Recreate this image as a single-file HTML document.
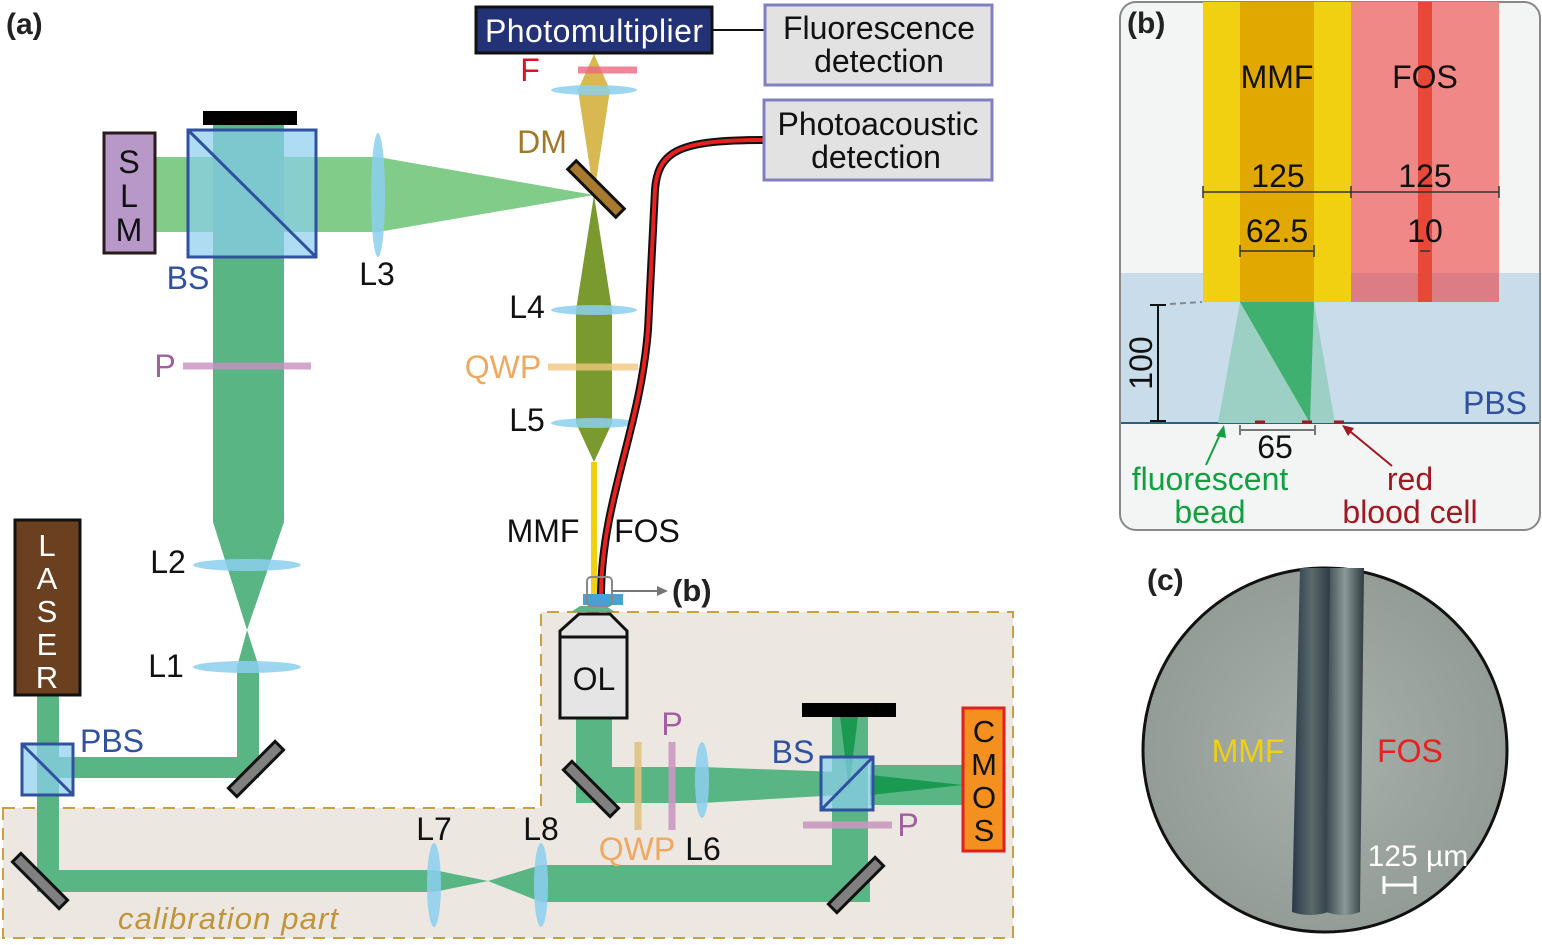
<!DOCTYPE html>
<html><head><meta charset="utf-8"><style>
html,body{margin:0;padding:0;background:#fff;}
svg{display:block;font-family:"Liberation Sans",Arial,sans-serif;}
</style></head><body>
<svg width="1542" height="945" viewBox="0 0 1542 945" xmlns="http://www.w3.org/2000/svg">
<polygon points="3,808 541,808 541,612 1013,612 1013,938 3,938" fill="#ece7e0" stroke="#c8a040" stroke-width="2" stroke-dasharray="12,8"/>
<text x="118" y="929" font-size="31" font-style="italic" fill="#c0953a" textLength="220">calibration part</text>

<rect x="155" y="157" width="223" height="75" fill="#80cc88"/>
<polygon points="378,157 594,195 378,232" fill="#80cc88"/>
<polygon points="213,125 284,125 284,522 247,630 213,522" fill="#5ab585"/>
<polygon points="247,630 237,667 259,667" fill="#5ab585"/>
<rect x="237" y="667" width="22" height="111" fill="#5ab585"/>
<rect x="48" y="757" width="211" height="21" fill="#5ab585"/>
<rect x="37" y="695" width="22" height="197" fill="#5ab585"/>
<rect x="37" y="870" width="398" height="22" fill="#5ab585"/>
<polygon points="434,870 488,881 434,892" fill="#5ab585"/>
<polygon points="488,881 541,865 541,902" fill="#5ab585"/>
<rect x="541" y="865" width="329" height="37" fill="#5ab585"/>
<rect x="832" y="712" width="36" height="190" fill="#5ab585"/>
<polygon points="840,716 858,716 849,790" fill="#1a9a50"/>
<rect x="576" y="718" width="36" height="85" fill="#5ab585"/>
<polygon points="576,767 702,767 840,772 840,795 702,803 576,803" fill="#5ab585"/>
<polygon points="870,765 963,765 963,805 870,805" fill="#5ab585"/>
<polygon points="870,775 963,785 870,795" fill="#1a9a50"/>
<polygon points="580,606 606,606 615,612 571,612" fill="#5ab585"/>

<polygon points="594,54 610,90 594,195 578,90" fill="#d8b850"/>
<polygon points="594,195 612,310 612,423 594,462 576,423 576,310" fill="#7a9a30"/>

<g fill="#808080" stroke="#111" stroke-width="3">
<rect x="-33" y="-6" width="66" height="12" transform="translate(256,769) rotate(-45)"/>
<rect x="-33" y="-6" width="66" height="12" transform="translate(40,881) rotate(45)"/>
<rect x="-33" y="-6" width="66" height="12" transform="translate(856,885) rotate(-45)"/>
<rect x="-33" y="-6" width="66" height="12" transform="translate(591,789) rotate(45)"/>
</g>
<rect x="-34" y="-6" width="68" height="12" transform="translate(596,189) rotate(45)" fill="#a87a30" stroke="#111" stroke-width="3"/>

<g fill="#8ccfee" fill-opacity="0.85">
<ellipse cx="378" cy="195" rx="7" ry="62"/>
<ellipse cx="247" cy="565" rx="54" ry="6"/>
<ellipse cx="247" cy="667" rx="54" ry="6"/>
<ellipse cx="594" cy="90" rx="43" ry="5"/>
<ellipse cx="594" cy="310" rx="43" ry="5"/>
<ellipse cx="594" cy="423" rx="43" ry="5"/>
<ellipse cx="434" cy="885" rx="7" ry="42"/>
<ellipse cx="541" cy="885" rx="7" ry="42"/>
<ellipse cx="702" cy="780" rx="7" ry="38"/>
</g>
<line x1="183" y1="366" x2="311" y2="366" stroke="#c890c0" stroke-opacity="0.8" stroke-width="7"/>
<line x1="548" y1="367" x2="638" y2="367" stroke="#f0c880" stroke-opacity="0.8" stroke-width="7"/>
<line x1="578" y1="70" x2="637" y2="70" stroke="#ec6880" stroke-opacity="0.8" stroke-width="7"/>
<line x1="638" y1="742" x2="638" y2="830" stroke="#e0c080" stroke-opacity="0.9" stroke-width="7"/>
<line x1="672" y1="742" x2="672" y2="830" stroke="#c898c0" stroke-opacity="0.9" stroke-width="7"/>
<line x1="803" y1="825" x2="892" y2="825" stroke="#c898c0" stroke-opacity="0.9" stroke-width="7"/>

<rect x="203" y="111" width="94" height="14" fill="#000"/>
<rect x="802" y="703" width="94" height="14" fill="#000"/>

<rect x="188" y="130" width="128" height="127" fill="#8ccfee" fill-opacity="0.7" stroke="#3050a0" stroke-width="3"/>
<line x1="188" y1="130" x2="316" y2="257" stroke="#3050a0" stroke-width="3"/>
<rect x="22" y="744" width="51" height="51" fill="#8ccfee" fill-opacity="0.7" stroke="#3050a0" stroke-width="3"/>
<line x1="22" y1="744" x2="73" y2="795" stroke="#3050a0" stroke-width="3"/>
<rect x="821" y="757" width="52" height="53" fill="#8ccfee" fill-opacity="0.7" stroke="#3050a0" stroke-width="3"/>
<line x1="821" y1="810" x2="873" y2="757" stroke="#3050a0" stroke-width="3"/>

<rect x="104" y="133" width="51" height="120" fill="#b898c8" stroke="#2a1a1a" stroke-width="3"/>
<text font-size="32" fill="#111" text-anchor="middle"><tspan x="129" y="173">S</tspan><tspan x="129" y="207">L</tspan><tspan x="129" y="241">M</tspan></text>
<rect x="15" y="520" width="65" height="175" fill="#6b4020" stroke="#111" stroke-width="3"/>
<text font-size="31" fill="#fff" text-anchor="middle"><tspan x="47" y="556">L</tspan><tspan x="47" y="589">A</tspan><tspan x="47" y="622">S</tspan><tspan x="47" y="655">E</tspan><tspan x="47" y="688">R</tspan></text>
<rect x="963" y="708" width="41" height="143" fill="#f39020" stroke="#e02020" stroke-width="3"/>
<text font-size="31" fill="#111" text-anchor="middle"><tspan x="984" y="742">C</tspan><tspan x="984" y="775">M</tspan><tspan x="984" y="808">O</tspan><tspan x="984" y="841">S</tspan></text>
<polygon points="579,614 610,614 627,631 627,718 560,718 560,631" fill="#e5e5e5" stroke="#111" stroke-width="3"/>
<line x1="560" y1="637" x2="627" y2="637" stroke="#111" stroke-width="3"/>
<text x="594" y="690" font-size="32" text-anchor="middle" fill="#111">OL</text>

<rect x="591" y="462" width="6" height="132" fill="#f0d010"/>
<path d="M601 594 C602 500,640 430,648 330 L655 190 C658 150,680 140,764 140" fill="none" stroke="#111" stroke-width="8"/>
<path d="M601 594 C602 500,640 430,648 330 L655 190 C658 150,680 140,764 140" fill="none" stroke="#e82020" stroke-width="4"/>
<rect x="583" y="594" width="40" height="11" fill="#4aa0d0"/>
<rect x="587" y="577" width="25" height="29" rx="4" fill="none" stroke="#888" stroke-width="2"/>
<line x1="612" y1="591" x2="660" y2="591" stroke="#777" stroke-width="2"/>
<polygon points="668,591 657,586 657,596" fill="#777"/>
<text x="672" y="601" font-size="31" font-weight="bold" fill="#222">(b)</text>

<rect x="476" y="7" width="236" height="46" fill="#233276" stroke="#111" stroke-width="3"/>
<text x="594" y="42" font-size="32" fill="#fff" text-anchor="middle" textLength="218">Photomultiplier</text>
<line x1="712" y1="30" x2="765" y2="30" stroke="#111" stroke-width="2"/>
<rect x="765" y="5" width="227" height="80" fill="#e2e2e2" stroke="#8080c0" stroke-width="3"/>
<text font-size="32" fill="#111" text-anchor="middle"><tspan x="879" y="39">Fluorescence</tspan><tspan x="879" y="72">detection</tspan></text>
<rect x="764" y="100" width="228" height="80" fill="#e2e2e2" stroke="#8080c0" stroke-width="3"/>
<text font-size="32" fill="#111" text-anchor="middle"><tspan x="878" y="135">Photoacoustic</tspan><tspan x="876" y="168">detection</tspan></text>

<text x="6" y="34" font-size="30" font-weight="bold" fill="#222">(a)</text>
<g font-size="32">
<text x="530" y="81" fill="#e0102a" text-anchor="middle">F</text>
<text x="542" y="153" fill="#a07828" text-anchor="middle">DM</text>
<text x="188" y="289" fill="#3050a0" text-anchor="middle">BS</text>
<text x="377" y="285" fill="#111" text-anchor="middle">L3</text>
<text x="165" y="377" fill="#a060a0" text-anchor="middle">P</text>
<text x="527" y="318" fill="#111" text-anchor="middle">L4</text>
<text x="503" y="378" fill="#f0a860" text-anchor="middle">QWP</text>
<text x="527" y="431" fill="#111" text-anchor="middle">L5</text>
<text x="543" y="542" fill="#111" text-anchor="middle">MMF</text>
<text x="647" y="542" fill="#111" text-anchor="middle">FOS</text>
<text x="168" y="573" fill="#111" text-anchor="middle">L2</text>
<text x="166" y="677" fill="#111" text-anchor="middle">L1</text>
<text x="112" y="752" fill="#3050a0" text-anchor="middle">PBS</text>
<text x="793" y="763" fill="#3050a0" text-anchor="middle">BS</text>
<text x="672" y="735" fill="#a060a0" text-anchor="middle">P</text>
<text x="637" y="860" fill="#f0a860" text-anchor="middle">QWP</text>
<text x="703" y="860" fill="#111" text-anchor="middle">L6</text>
<text x="908" y="836" fill="#a060a0" text-anchor="middle">P</text>
<text x="434" y="840" fill="#111" text-anchor="middle">L7</text>
<text x="541" y="840" fill="#111" text-anchor="middle">L8</text>
</g>

<rect x="1120" y="2" width="420" height="528" rx="16" fill="#f3f4f4" stroke="#888" stroke-width="2"/>
<rect x="1121" y="273" width="418" height="150" fill="#c8dcea"/>
<line x1="1121" y1="423" x2="1539" y2="423" stroke="#2a6080" stroke-width="2"/>
<rect x="1203" y="2" width="148" height="300" fill="#f0d010"/>
<rect x="1240" y="2" width="74" height="300" fill="#e0a800"/>
<rect x="1351" y="2" width="148" height="300" fill="#f08888"/>
<rect x="1351" y="273" width="148" height="29" fill="#dc7c84"/>
<rect x="1418" y="2" width="14" height="300" fill="#e84838"/>
<polygon points="1240,302 1314,302 1335,423 1218,423" fill="#9cd0c4"/>
<polygon points="1240,302 1314,302 1310,423" fill="#40b070"/>
<g font-size="32" fill="#111" text-anchor="middle">
<text x="1277" y="88">MMF</text><text x="1425" y="88">FOS</text>
<text x="1278" y="187">125</text><text x="1425" y="187">125</text>
<text x="1277" y="242">62.5</text><text x="1425" y="242">10</text>
<text x="1275" y="458">65</text>
</g>
<line x1="1203" y1="192" x2="1499" y2="192" stroke="#333" stroke-width="1.5"/>
<line x1="1203" y1="186" x2="1203" y2="198" stroke="#333" stroke-width="1.5"/>
<line x1="1499" y1="186" x2="1499" y2="198" stroke="#333" stroke-width="1.5"/>
<line x1="1351" y1="186" x2="1351" y2="198" stroke="#333" stroke-width="1.5"/>
<line x1="1240" y1="251" x2="1314" y2="251" stroke="#333" stroke-width="1.5"/>
<line x1="1240" y1="245" x2="1240" y2="257" stroke="#333" stroke-width="1.5"/>
<line x1="1314" y1="245" x2="1314" y2="257" stroke="#333" stroke-width="1.5"/>
<line x1="1420" y1="251" x2="1430" y2="251" stroke="#333" stroke-width="1.5"/>
<line x1="1240" y1="430" x2="1315" y2="430" stroke="#777" stroke-width="2"/>
<line x1="1240" y1="425" x2="1240" y2="435" stroke="#777" stroke-width="2"/>
<line x1="1315" y1="425" x2="1315" y2="435" stroke="#777" stroke-width="2"/>
<line x1="1158" y1="305" x2="1158" y2="421" stroke="#111" stroke-width="2"/>
<line x1="1150" y1="305" x2="1166" y2="305" stroke="#111" stroke-width="2"/>
<line x1="1150" y1="421" x2="1166" y2="421" stroke="#111" stroke-width="2"/>
<line x1="1170" y1="304" x2="1202" y2="302" stroke="#888" stroke-width="2" stroke-dasharray="6,4"/>
<text x="0" y="0" font-size="32" fill="#111" text-anchor="middle" transform="translate(1152,363) rotate(-90)">100</text>
<g stroke="#a01820" stroke-width="3"><line x1="1255" y1="422" x2="1265" y2="422"/><line x1="1302" y1="422" x2="1312" y2="422"/><line x1="1334" y1="422" x2="1344" y2="422"/></g>
<text x="1495" y="414" font-size="32" fill="#3050a0" text-anchor="middle">PBS</text>
<line x1="1206" y1="465" x2="1222" y2="430" stroke="#10a040" stroke-width="2"/>
<polygon points="1224,425 1216,436 1226,438" fill="#10a040"/>
<line x1="1392" y1="466" x2="1346" y2="428" stroke="#a01820" stroke-width="2"/>
<polygon points="1342,425 1348,436 1354,428" fill="#a01820"/>
<g font-size="32" text-anchor="middle">
<text x="1210" y="490" fill="#10a040">fluorescent</text><text x="1210" y="523" fill="#10a040">bead</text>
<text x="1410" y="490" fill="#a01820">red</text><text x="1410" y="523" fill="#a01820">blood cell</text>
</g>
<text x="1127" y="33" font-size="30" font-weight="bold" fill="#222">(b)</text>

<defs>
<radialGradient id="g" cx="0.5" cy="0.5" r="0.5"><stop offset="0" stop-color="#a8b0ac"/><stop offset="1" stop-color="#949c98"/></radialGradient>
<linearGradient id="f1" x1="0" x2="1"><stop offset="0" stop-color="#2a3848"/><stop offset="0.5" stop-color="#5a6a6a"/><stop offset="1" stop-color="#2a3440"/></linearGradient>
<linearGradient id="f2" x1="0" x2="1"><stop offset="0" stop-color="#3a4850"/><stop offset="0.5" stop-color="#8a9898"/><stop offset="1" stop-color="#303a40"/></linearGradient>
</defs>
<circle cx="1325" cy="750" r="182" fill="url(#g)" stroke="#111" stroke-width="3"/>
<path d="M1300 568 L1332 568 L1328 912 Q1310 918 1292 912 Z" fill="url(#f1)"/>
<path d="M1330 568 L1364 568 L1360 912 Q1344 918 1326 912 Z" fill="url(#f2)"/>
<text x="1248" y="762" font-size="32" fill="#f0d010" text-anchor="middle">MMF</text>
<text x="1410" y="762" font-size="32" fill="#e82020" text-anchor="middle">FOS</text>
<text x="1418" y="866" font-size="30" fill="#fff" text-anchor="middle">125 µm</text>
<line x1="1384" y1="885" x2="1415" y2="885" stroke="#fff" stroke-width="3"/>
<line x1="1384" y1="876" x2="1384" y2="894" stroke="#fff" stroke-width="3"/>
<line x1="1415" y1="876" x2="1415" y2="894" stroke="#fff" stroke-width="3"/>
<text x="1147" y="590" font-size="30" font-weight="bold" fill="#222">(c)</text>
</svg>
</body></html>
